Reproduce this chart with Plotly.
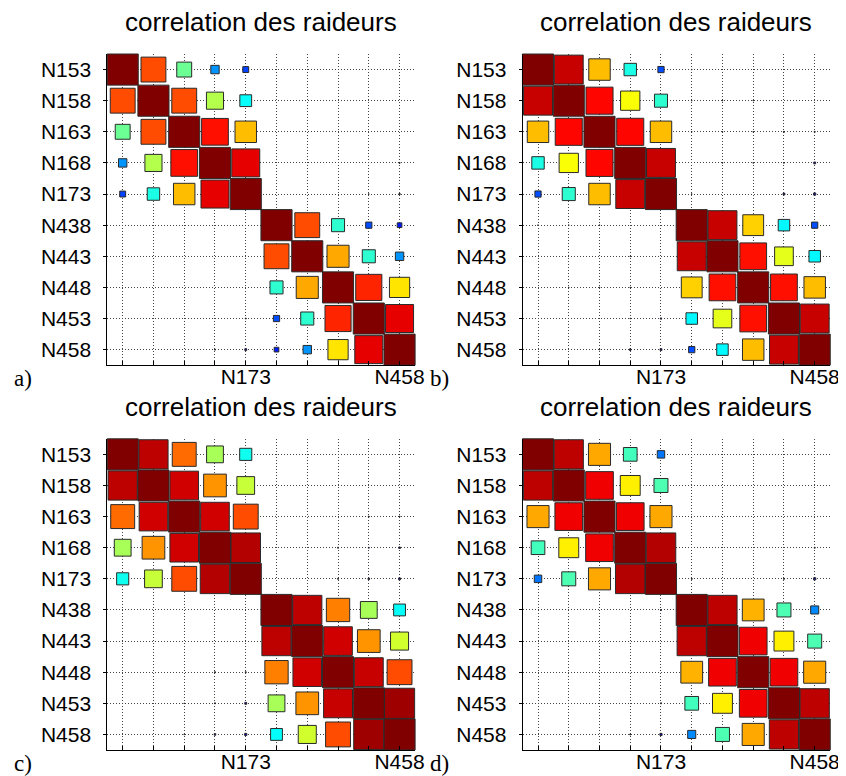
import plotly.graph_objects as go

# stiffener labels (rows / columns of each correlation matrix)
labels = ['N153', 'N158', 'N163', 'N168', 'N173',
          'N438', 'N443', 'N448', 'N453', 'N458']
xtick_text = ['', '', '', '', 'N173', '', '', '', '', 'N458']
panel_tags = ['a)', 'b)', 'c)', 'd)']
title_text = 'correlation des raideurs'

# correlation values
corr_a = [
    [1.00, 0.80, 0.48, 0.27, 0.19, 0.00, 0.00, 0.00, 0.00, 0.00],
    [0.80, 1.00, 0.80, 0.55, 0.38, 0.00, 0.00, 0.00, 0.00, 0.00],
    [0.48, 0.80, 1.00, 0.86, 0.69, 0.00, 0.00, 0.00, 0.00, 0.00],
    [0.27, 0.55, 0.86, 1.00, 0.90, 0.00, 0.00, 0.00, 0.00, 0.03],
    [0.19, 0.40, 0.69, 0.90, 1.00, 0.00, 0.00, 0.00, 0.02, 0.04],
    [0.00, 0.00, 0.00, 0.00, 0.00, 1.00, 0.80, 0.42, 0.20, 0.15],
    [0.00, 0.00, 0.00, 0.00, 0.00, 0.80, 1.00, 0.71, 0.42, 0.27],
    [0.00, 0.00, 0.00, 0.00, 0.00, 0.42, 0.71, 1.00, 0.84, 0.65],
    [0.00, 0.00, 0.00, 0.00, 0.03, 0.20, 0.42, 0.84, 1.00, 0.90],
    [0.00, 0.00, 0.00, 0.03, 0.06, 0.15, 0.27, 0.65, 0.90, 1.00],
]
corr_b = [
    [1.00, 0.93, 0.69, 0.40, 0.20, 0.02, 0.00, 0.00, 0.00, 0.00],
    [0.93, 1.00, 0.87, 0.62, 0.42, 0.02, 0.02, 0.02, 0.00, 0.00],
    [0.69, 0.87, 1.00, 0.87, 0.69, 0.02, 0.02, 0.02, 0.03, 0.03],
    [0.40, 0.62, 0.87, 1.00, 0.93, 0.00, 0.02, 0.02, 0.02, 0.06],
    [0.20, 0.42, 0.69, 0.93, 1.00, 0.02, 0.00, 0.00, 0.06, 0.07],
    [0.02, 0.02, 0.02, 0.00, 0.00, 1.00, 0.93, 0.67, 0.37, 0.20],
    [0.00, 0.00, 0.00, 0.02, 0.00, 0.93, 1.00, 0.86, 0.60, 0.37],
    [0.00, 0.02, 0.02, 0.02, 0.00, 0.67, 0.86, 1.00, 0.86, 0.69],
    [0.00, 0.00, 0.00, 0.02, 0.04, 0.37, 0.60, 0.86, 1.00, 0.93],
    [0.00, 0.00, 0.02, 0.05, 0.06, 0.20, 0.37, 0.69, 0.93, 1.00],
]
corr_c = [
    [1.00, 0.94, 0.77, 0.54, 0.39, 0.00, 0.00, 0.00, 0.00, 0.00],
    [0.94, 1.00, 0.92, 0.73, 0.57, 0.00, 0.00, 0.00, 0.00, 0.00],
    [0.77, 0.92, 1.00, 0.92, 0.80, 0.00, 0.00, 0.00, 0.03, 0.03],
    [0.54, 0.73, 0.92, 1.00, 0.95, 0.00, 0.00, 0.03, 0.03, 0.05],
    [0.39, 0.57, 0.80, 0.95, 1.00, 0.00, 0.00, 0.03, 0.05, 0.06],
    [0.00, 0.00, 0.00, 0.00, 0.00, 1.00, 0.94, 0.75, 0.54, 0.38],
    [0.00, 0.00, 0.00, 0.00, 0.00, 0.94, 1.00, 0.92, 0.73, 0.58],
    [0.00, 0.00, 0.00, 0.03, 0.03, 0.75, 0.92, 1.00, 0.93, 0.80],
    [0.00, 0.00, 0.02, 0.03, 0.06, 0.54, 0.73, 0.93, 1.00, 0.97],
    [0.00, 0.00, 0.02, 0.05, 0.07, 0.38, 0.58, 0.80, 0.97, 1.00],
]
corr_d = [
    [1.00, 0.94, 0.71, 0.44, 0.24, 0.00, 0.00, 0.00, 0.00, 0.00],
    [0.94, 1.00, 0.89, 0.64, 0.45, 0.00, 0.00, 0.00, 0.00, 0.00],
    [0.71, 0.89, 1.00, 0.89, 0.71, 0.00, 0.00, 0.00, 0.00, 0.00],
    [0.44, 0.64, 0.89, 1.00, 0.95, 0.00, 0.00, 0.00, 0.00, 0.03],
    [0.24, 0.45, 0.71, 0.95, 1.00, 0.03, 0.00, 0.00, 0.03, 0.07],
    [0.00, 0.00, 0.00, 0.00, 0.03, 1.00, 0.94, 0.70, 0.45, 0.26],
    [0.00, 0.00, 0.00, 0.00, 0.00, 0.94, 1.00, 0.89, 0.64, 0.45],
    [0.00, 0.00, 0.00, 0.00, 0.00, 0.70, 0.89, 1.00, 0.89, 0.71],
    [0.00, 0.00, 0.00, 0.00, 0.03, 0.44, 0.64, 0.89, 1.00, 0.94],
    [0.00, 0.00, 0.00, 0.03, 0.07, 0.26, 0.45, 0.71, 0.94, 1.00],
]
matrices = [corr_a, corr_b, corr_c, corr_d]

# matlab "jet" colormap
jet = [[0.0, 'rgb(0,0,128)'], [0.125, 'rgb(0,0,255)'], [0.375, 'rgb(0,255,255)'],
       [0.625, 'rgb(255,255,0)'], [0.875, 'rgb(255,0,0)'], [1.0, 'rgb(128,0,0)']]

W, H = 846, 776
cell_px = 31.1  # pixel size of one matrix cell

# panel boxes in pixels (left, right, top, bottom)
boxes = [(100.5, 411.8, 46.0, 357.2), (520.8, 831.9, 46.0, 357.2),
         (100.5, 411.8, 430.8, 742.0), (520.8, 831.9, 430.8, 742.0)]

fig = go.Figure()
layout = dict(width=W, height=H, margin=dict(l=0, r=0, t=0, b=0),
              paper_bgcolor='white', plot_bgcolor='white', showlegend=False)
annotations = []

for k, (mat, box) in enumerate(zip(matrices, boxes)):
    n = k + 1
    suffix = '' if n == 1 else str(n)
    xs, ys, vs = [], [], []
    for i, row in enumerate(mat):
        for j, v in enumerate(row):
            if v > 0:
                xs.append(j + 1)
                ys.append(i + 1)
                vs.append(v)
    fig.add_trace(go.Scatter(
        x=xs, y=ys, mode='markers', xaxis='x' + suffix, yaxis='y' + suffix,
        cliponaxis=False, hoverinfo='skip',
        marker=dict(symbol='square', size=[v * cell_px for v in vs], opacity=1,
                    color=vs, colorscale=jet, cmin=0, cmax=1,
                    line=dict(color='#2a2a2a', width=1))))

    l, r, t, b = box
    common = dict(showgrid=True, gridcolor='#444', griddash='1px,2px', gridwidth=1,
                  zeroline=False, showline=True, linecolor='black', linewidth=1,
                  tickfont=dict(family='Liberation Sans, Arial', size=21, color='black'))
    layout['xaxis' + suffix] = dict(
        domain=[l / W, r / W], range=[0.5, 10.5], anchor='y' + suffix,
        tickmode='array', tickvals=list(range(1, 11)), ticktext=xtick_text,
        ticks='inside', ticklen=4, tickcolor='black', ticklabelstandoff=-7, **common)
    layout['yaxis' + suffix] = dict(
        domain=[1 - b / H, 1 - t / H], range=[10.5, 0.5], anchor='x' + suffix,
        tickmode='array', tickvals=list(range(1, 11)), ticktext=labels,
        ticks='outside', ticklen=3, tickcolor='black', ticklabelstandoff=8, **common)

    annotations.append(dict(
        text=title_text, xref='paper', yref='paper', x=(l + r) / 2 / W,
        y=1 - (t - 32) / H, xanchor='center', yanchor='middle', showarrow=False,
        font=dict(family='Liberation Sans, Arial', size=26, color='black')))
    annotations.append(dict(
        text=panel_tags[k], xref='paper', yref='paper', x=(l - 96) / W,
        y=1 - (b + 13) / H, xanchor='left', yanchor='middle', showarrow=False,
        font=dict(family='Liberation Serif, Times New Roman', size=23, color='black')))

layout['annotations'] = annotations
fig.update_layout(**layout)

fig.write_html("out.html")
